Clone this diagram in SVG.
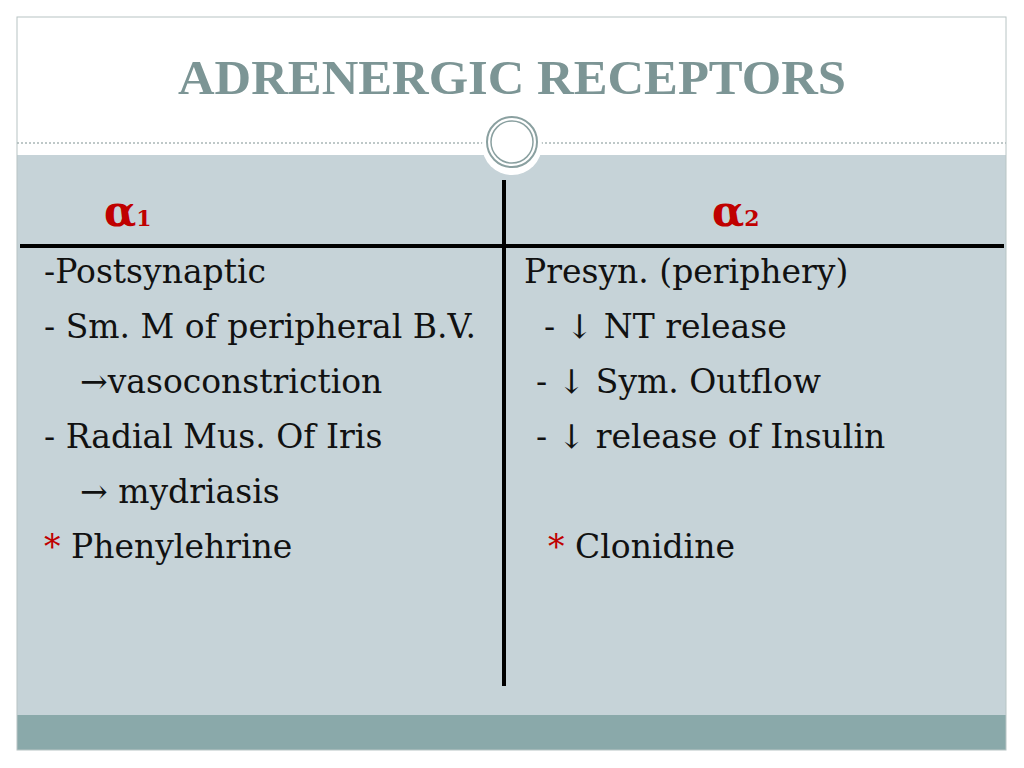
<svg xmlns="http://www.w3.org/2000/svg" width="1024" height="768" viewBox="0 0 1024 768">
<style>
.t{font-family:"DejaVu Serif","Liberation Serif",serif;font-size:33px;fill:#111}
.r{fill:#c00000}
.a{font-family:"DejaVu Serif","Liberation Serif",serif;fill:#c00000;font-weight:bold}
</style>
<rect width="1024" height="768" fill="#fff"/>
<rect x="17" y="155" width="989" height="560" fill="#c6d3d8"/>
<rect x="17" y="715" width="989" height="35" fill="#8aa9aa"/>
<rect x="17" y="17" width="989" height="733" fill="none" stroke="#b8c4c4" stroke-width="1"/>
<line x1="17" y1="143" x2="1006" y2="143" stroke="#a9b6b6" stroke-width="1.5" stroke-dasharray="2,2"/>
<circle cx="512" cy="145" r="30" fill="#fff"/>
<circle cx="512" cy="142" r="25" fill="#fff" stroke="#8aa0a0" stroke-width="2"/>
<circle cx="512" cy="142" r="21" fill="none" stroke="#8aa0a0" stroke-width="1.5"/>
<text x="178" y="94" textLength="668" lengthAdjust="spacingAndGlyphs" font-family="Liberation Serif,serif" font-weight="bold" font-size="48" fill="#7c9595">ADRENERGIC RECEPTORS</text>
<line x1="20" y1="246" x2="1004" y2="246" stroke="#000" stroke-width="4"/>
<line x1="504" y1="180" x2="504" y2="686" stroke="#000" stroke-width="4"/>
<text class="a" x="104" y="226" font-size="42">α<tspan font-size="22">1</tspan></text>
<text class="a" x="712" y="226" font-size="42">α<tspan font-size="22">2</tspan></text>
<text class="t" x="44" y="283">-Postsynaptic</text>
<text class="t" x="44" y="338">- Sm. M of peripheral B.V.</text>
<text class="t" x="80" y="393">→vasoconstriction</text>
<text class="t" x="44" y="448">- Radial  Mus. Of Iris</text>
<text class="t" x="80" y="503">→ mydriasis</text>
<text class="t" x="44" y="558"><tspan class="r">*</tspan> Phenylehrine</text>
<text class="t" x="524" y="283">Presyn. (periphery)</text>
<text class="t" x="544" y="338">- ↓ NT release</text>
<text class="t" x="536" y="393">- ↓ Sym. Outflow</text>
<text class="t" x="536" y="448">- ↓ release of Insulin</text>
<text class="t" x="548" y="558"><tspan class="r">*</tspan> Clonidine</text>
</svg>
